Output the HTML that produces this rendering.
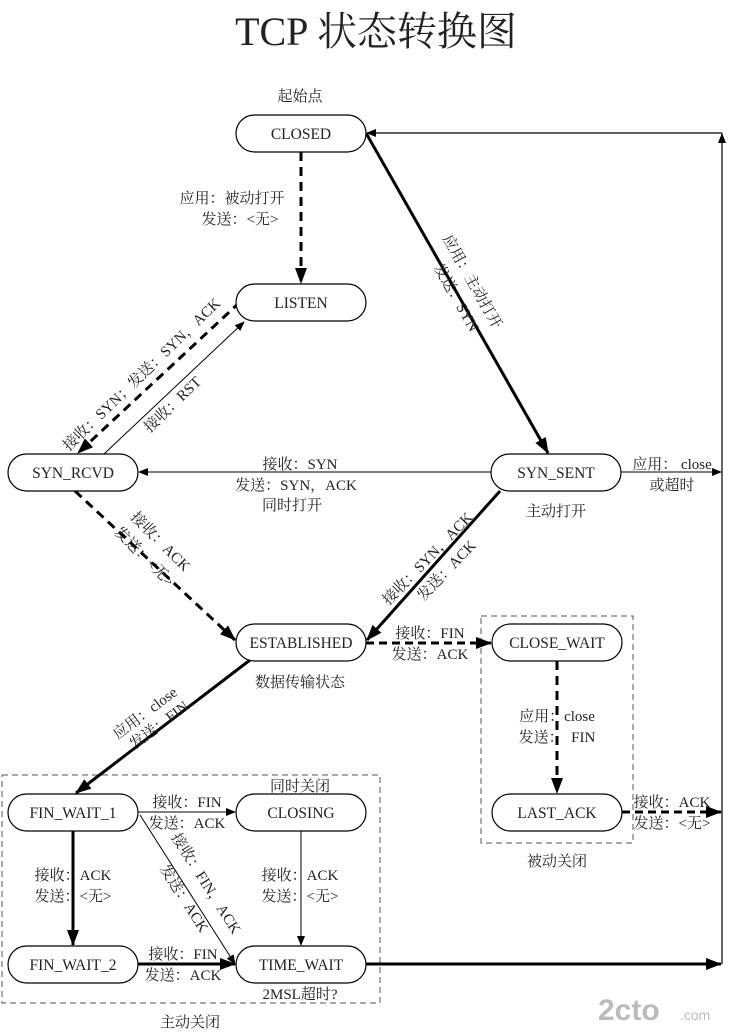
<!DOCTYPE html>
<html><head><meta charset="utf-8"><style>
html,body{margin:0;padding:0;background:#fff;}
svg{display:block;}
text{font-family:"Liberation Serif","Noto Serif CJK SC",serif;font-size:15px;fill:#222;}
.n{font-size:15.5px;text-anchor:middle;}
.c{text-anchor:middle;}
</style></head><body>
<svg width="731" height="1032" viewBox="0 0 731 1032" xmlns="http://www.w3.org/2000/svg">
<defs>
<marker id="a" markerWidth="10" markerHeight="8" refX="9" refY="4" orient="auto" markerUnits="userSpaceOnUse"><path d="M0,0 L10,4 L0,8 z" fill="#000"/></marker>
<marker id="b" markerWidth="16" markerHeight="12" refX="15" refY="6" orient="auto" markerUnits="userSpaceOnUse"><path d="M0,0 L16,6 L0,12 z" fill="#000"/></marker>
</defs>
<text x="376" y="45" style="font-size:40px" class="c">TCP 状态转换图</text>

<rect x="481" y="616" width="152" height="227" fill="none" stroke="#555" stroke-dasharray="6,4"/>
<rect x="2" y="775" width="378" height="228" fill="none" stroke="#555" stroke-dasharray="6,4"/>

<line x1="722" y1="964" x2="722" y2="133" stroke="#000" stroke-width="1.2"/>
<line x1="722" y1="150" x2="722" y2="134" stroke="#000" marker-end="url(#a)"/>
<line x1="722" y1="133" x2="367" y2="133" stroke="#000" stroke-width="1.2" marker-end="url(#a)"/>
<line x1="621" y1="472" x2="721" y2="472" stroke="#000" marker-end="url(#a)"/>
<line x1="622" y1="812" x2="721" y2="812" stroke="#000" stroke-width="3" stroke-dasharray="8,5" marker-end="url(#b)"/>
<line x1="366" y1="964" x2="721" y2="964" stroke="#000" stroke-width="3" marker-end="url(#b)"/>

<line x1="301" y1="152" x2="301" y2="283" stroke="#000" stroke-width="3" stroke-dasharray="9,6" marker-end="url(#b)"/>
<line x1="366" y1="133" x2="548" y2="453" stroke="#000" stroke-width="3" marker-end="url(#b)"/>
<line x1="240" y1="302" x2="78" y2="453" stroke="#000" stroke-width="3" stroke-dasharray="9,6" marker-end="url(#b)"/>
<line x1="104" y1="454" x2="244" y2="322" stroke="#000" stroke-width="1" marker-end="url(#a)"/>
<line x1="491" y1="472" x2="139" y2="472" stroke="#000" stroke-width="1" marker-end="url(#a)"/>
<line x1="75" y1="491" x2="235" y2="640" stroke="#000" stroke-width="3" stroke-dasharray="9,6" marker-end="url(#b)"/>
<line x1="500" y1="491" x2="367" y2="640" stroke="#000" stroke-width="3" marker-end="url(#b)"/>
<line x1="366" y1="643" x2="491" y2="643" stroke="#000" stroke-width="3" stroke-dasharray="8,5" marker-end="url(#b)"/>
<line x1="557" y1="661" x2="557" y2="793" stroke="#000" stroke-width="3" stroke-dasharray="9,6" marker-end="url(#b)"/>
<line x1="250" y1="660" x2="76" y2="793" stroke="#000" stroke-width="3" marker-end="url(#b)"/>
<line x1="138" y1="812" x2="235" y2="812" stroke="#000" stroke-width="1" marker-end="url(#a)"/>
<line x1="140" y1="815" x2="235" y2="964" stroke="#000" stroke-width="1" marker-end="url(#a)"/>
<line x1="73" y1="831" x2="73" y2="945" stroke="#000" stroke-width="3" marker-end="url(#b)"/>
<line x1="301" y1="831" x2="301" y2="945" stroke="#000" stroke-width="1" marker-end="url(#a)"/>
<line x1="138" y1="964" x2="235" y2="964" stroke="#000" stroke-width="3" marker-end="url(#b)"/>

<g fill="#fff" stroke="#000" stroke-width="1.2">
<rect x="236" y="115" width="130" height="37" rx="18.5"/>
<rect x="236" y="284" width="130" height="37" rx="18.5"/>
<rect x="8" y="454" width="130" height="37" rx="18.5"/>
<rect x="491" y="454" width="130" height="37" rx="18.5"/>
<rect x="236" y="624" width="130" height="37" rx="18.5"/>
<rect x="492" y="624" width="130" height="37" rx="18.5"/>
<rect x="492" y="794" width="130" height="37" rx="18.5"/>
<rect x="8" y="794" width="130" height="37" rx="18.5"/>
<rect x="236" y="794" width="130" height="37" rx="18.5"/>
<rect x="8" y="946" width="130" height="37" rx="18.5"/>
<rect x="236" y="946" width="130" height="37" rx="18.5"/>
</g>
<text class="n" x="301" y="139">CLOSED</text>
<text class="n" x="301" y="308">LISTEN</text>
<text class="n" x="73" y="478">SYN_RCVD</text>
<text class="n" x="556" y="478">SYN_SENT</text>
<text class="n" x="301" y="648">ESTABLISHED</text>
<text class="n" x="557" y="648">CLOSE_WAIT</text>
<text class="n" x="557" y="818">LAST_ACK</text>
<text class="n" x="73" y="818">FIN_WAIT_1</text>
<text class="n" x="301" y="818">CLOSING</text>
<text class="n" x="73" y="970">FIN_WAIT_2</text>
<text class="n" x="301" y="970">TIME_WAIT</text>

<text class="c" x="300" y="101">起始点</text>
<text class="c" x="232" y="203">应用：被动打开</text>
<text class="c" x="240" y="224">发送：&lt;无&gt;</text>
<text class="c" x="300" y="469">接收：SYN</text>
<text class="c" x="296" y="490">发送：SYN，ACK</text>
<text class="c" x="292" y="510">同时打开</text>
<text class="c" x="556" y="516">主动打开</text>
<text class="c" x="672" y="469">应用： close</text>
<text class="c" x="672" y="490">或超时</text>
<text class="c" x="430" y="638">接收：FIN</text>
<text class="c" x="430" y="659">发送：ACK</text>
<text class="c" x="300" y="687">数据传输状态</text>
<text class="c" x="557" y="721">应用：close</text>
<text class="c" x="557" y="742">发送：&#160;&#160;FIN</text>
<text class="c" x="557" y="866">被动关闭</text>
<text class="c" x="672" y="807">接收：ACK</text>
<text class="c" x="672" y="828">发送：&lt;无&gt;</text>
<text class="c" x="300" y="791">同时关闭</text>
<text class="c" x="187" y="807">接收：FIN</text>
<text class="c" x="187" y="828">发送：ACK</text>
<text class="c" x="300" y="880">接收：ACK</text>
<text class="c" x="300" y="901">发送：&lt;无&gt;</text>
<text class="c" x="73" y="880">接收：ACK</text>
<text class="c" x="73" y="901">发送：&lt;无&gt;</text>
<text class="c" x="183" y="959">接收：FIN</text>
<text class="c" x="183" y="980">发送：ACK</text>
<text class="c" x="300" y="999">2MSL超时?</text>
<text class="c" x="190" y="1027">主动关闭</text>

<text class="c" transform="translate(468,284) rotate(60.4)">应用：主动打开</text>
<text class="c" transform="translate(452,300) rotate(60.4)">发送：SYN</text>
<text class="c" transform="translate(145,378) rotate(-44)">接收：SYN；发送：SYN，ACK</text>
<text class="c" transform="translate(176,408) rotate(-44)">接收：RST</text>
<text class="c" transform="translate(157,545) rotate(45)">接收：ACK</text>
<text class="c" transform="translate(141,560) rotate(45)">发送：&lt;无&gt;</text>
<text class="c" transform="translate(431,562) rotate(-46)">接收：SYN，ACK</text>
<text class="c" transform="translate(450,574) rotate(-46)">发送：ACK</text>
<text class="c" transform="translate(148,717) rotate(-37)">应用：close</text>
<text class="c" transform="translate(162,729) rotate(-37)">发送：FIN</text>
<text class="c" transform="translate(202,886) rotate(57.7)">接收：FIN，ACK</text>
<text class="c" transform="translate(180,901) rotate(57.7)">发送：ACK</text>

<text x="598" y="1020" style="font-size:30px;fill:#bbb;font-family:'Liberation Sans',sans-serif;font-weight:bold">2cto</text>
<text x="680" y="1020" style="font-size:14px;fill:#bbb;font-family:'Liberation Sans',sans-serif">.com</text>
</svg>
</body></html>
